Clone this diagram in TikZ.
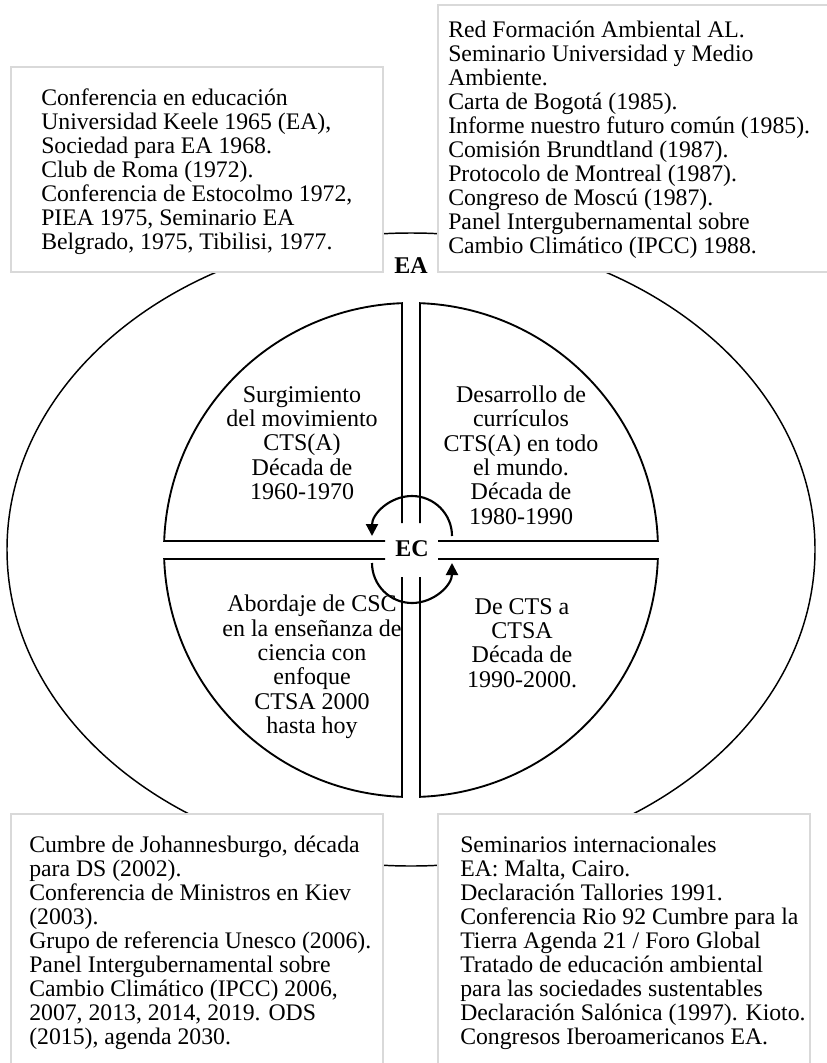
\documentclass[tikz,border=0pt]{standalone}
\usepackage{fontspec}
\setmainfont{Liberation Serif}
\usetikzlibrary{arrows.meta}
\begin{document}
\begin{tikzpicture}[x=0.75pt,y=-0.75pt,
        caja/.style={draw=black!15,line width=1.3pt,fill=white},
        linea/.style={line width=1.4pt},
        giro/.style={line width=1.6pt,-{Triangle[length=9pt,width=9pt]}},
        texto/.style={anchor=north west,inner sep=0pt,align=left,font=\fontsize{17.8}{18}\selectfont},
        cuad/.style={inner sep=0pt,align=center,font=\fontsize{18}{18.3}\selectfont},
        marca/.style={inner sep=1pt,font=\fontsize{18}{18}\selectfont\bfseries}]
        \useasboundingbox (0,0) rectangle (827,1063);
        \coordinate (c) at (411,550);
        \coordinate (arriba) at (412,536);
        \coordinate (abajo) at (412,563);

        \draw[line width=1.1pt] (411,549.5) ellipse [x radius=404, y radius=316.5];

        \draw[linea] (402,523) -- ([shift={(267.91:247)}]c) arc[start angle=267.91, end angle=182.09, radius=247] -- (385,541);
        \draw[linea] (420,523) -- ([shift={(272.09:247)}]c) arc[start angle=272.09, end angle=357.91, radius=247] -- (438,541);
        \draw[linea] (438,559) -- ([shift={(2.09:247)}]c) arc[start angle=2.09, end angle=87.91, radius=247] -- (420,577);
        \draw[linea] (385,559) -- ([shift={(177.91:247)}]c) arc[start angle=177.91, end angle=92.09, radius=247] -- (402,577);

        \draw[giro] ([shift={(0:40)}]arriba) arc[start angle=0, end angle=-180, radius=40];
        \draw[giro] ([shift={(180:40)}]abajo) arc[start angle=180, end angle=0, radius=40];
        \node[marca] (ec) at (412,549) {EC};

        \node[cuad] (q1) at (302,443) {Surgimiento\\del movimiento\\CTS(A)\\Década de\\1960-1970};
        \node[cuad] (q2) at (521,455) {Desarrollo de\\currículos\\CTS(A) en todo\\el mundo.\\Década de\\1980-1990};
        \node[cuad] (q3) at (312,667) {Abordaje de CSC\\en la enseñanza de\\ciencia con\\enfoque\\CTSA 2000\\hasta hoy};
        \node[cuad] (q4) at (522,643) {De CTS a\\CTSA\\Década de\\1990-2000.};

        \draw[caja] (11,67) rectangle (383,272);
        \draw[caja] (438,5) rectangle (832,272);
        \draw[caja] (11,814) rectangle (383,1070);
        \draw[caja] (438,814) rectangle (810,1070);
        \node[marca] (ea) at (411,266) {EA};

        \node[texto] (t1) at (41,89) {Conferencia en educación\\Universidad Keele 1965 (EA),\\Sociedad para EA 1968.\\Club de Roma (1972).\\Conferencia de Estocolmo 1972,\\PIEA 1975, Seminario EA\\Belgrado, 1975, Tibilisi, 1977.};
        \node[texto] (t2) at (448,21) {Red Formación Ambiental AL.\\Seminario Universidad y Medio\\Ambiente.\\Carta de Bogotá (1985).\\Informe nuestro futuro común (1985).\\Comisión Brundtland (1987).\\Protocolo de Montreal (1987).\\Congreso de Moscú (1987).\\Panel Intergubernamental sobre\\Cambio Climático (IPCC) 1988.};
        \node[texto] (t3) at (29,836) {Cumbre de Johannesburgo, década\\para DS (2002).\\Conferencia de Ministros en Kiev\\(2003).\\Grupo de referencia Unesco (2006).\\Panel Intergubernamental sobre\\Cambio Climático (IPCC) 2006,\\2007, 2013, 2014, 2019. ODS\\(2015), agenda 2030.};
        \node[texto] (t4) at (460,836) {Seminarios internacionales\\EA: Malta, Cairo.\\Declaración Tallories 1991.\\Conferencia Rio 92 Cumbre para la\\Tierra Agenda 21 / Foro Global\\Tratado de educación ambiental\\para las sociedades sustentables\\Declaración Salónica (1997). Kioto.\\Congresos Iberoamericanos EA.};
\end{tikzpicture}
\end{document}
